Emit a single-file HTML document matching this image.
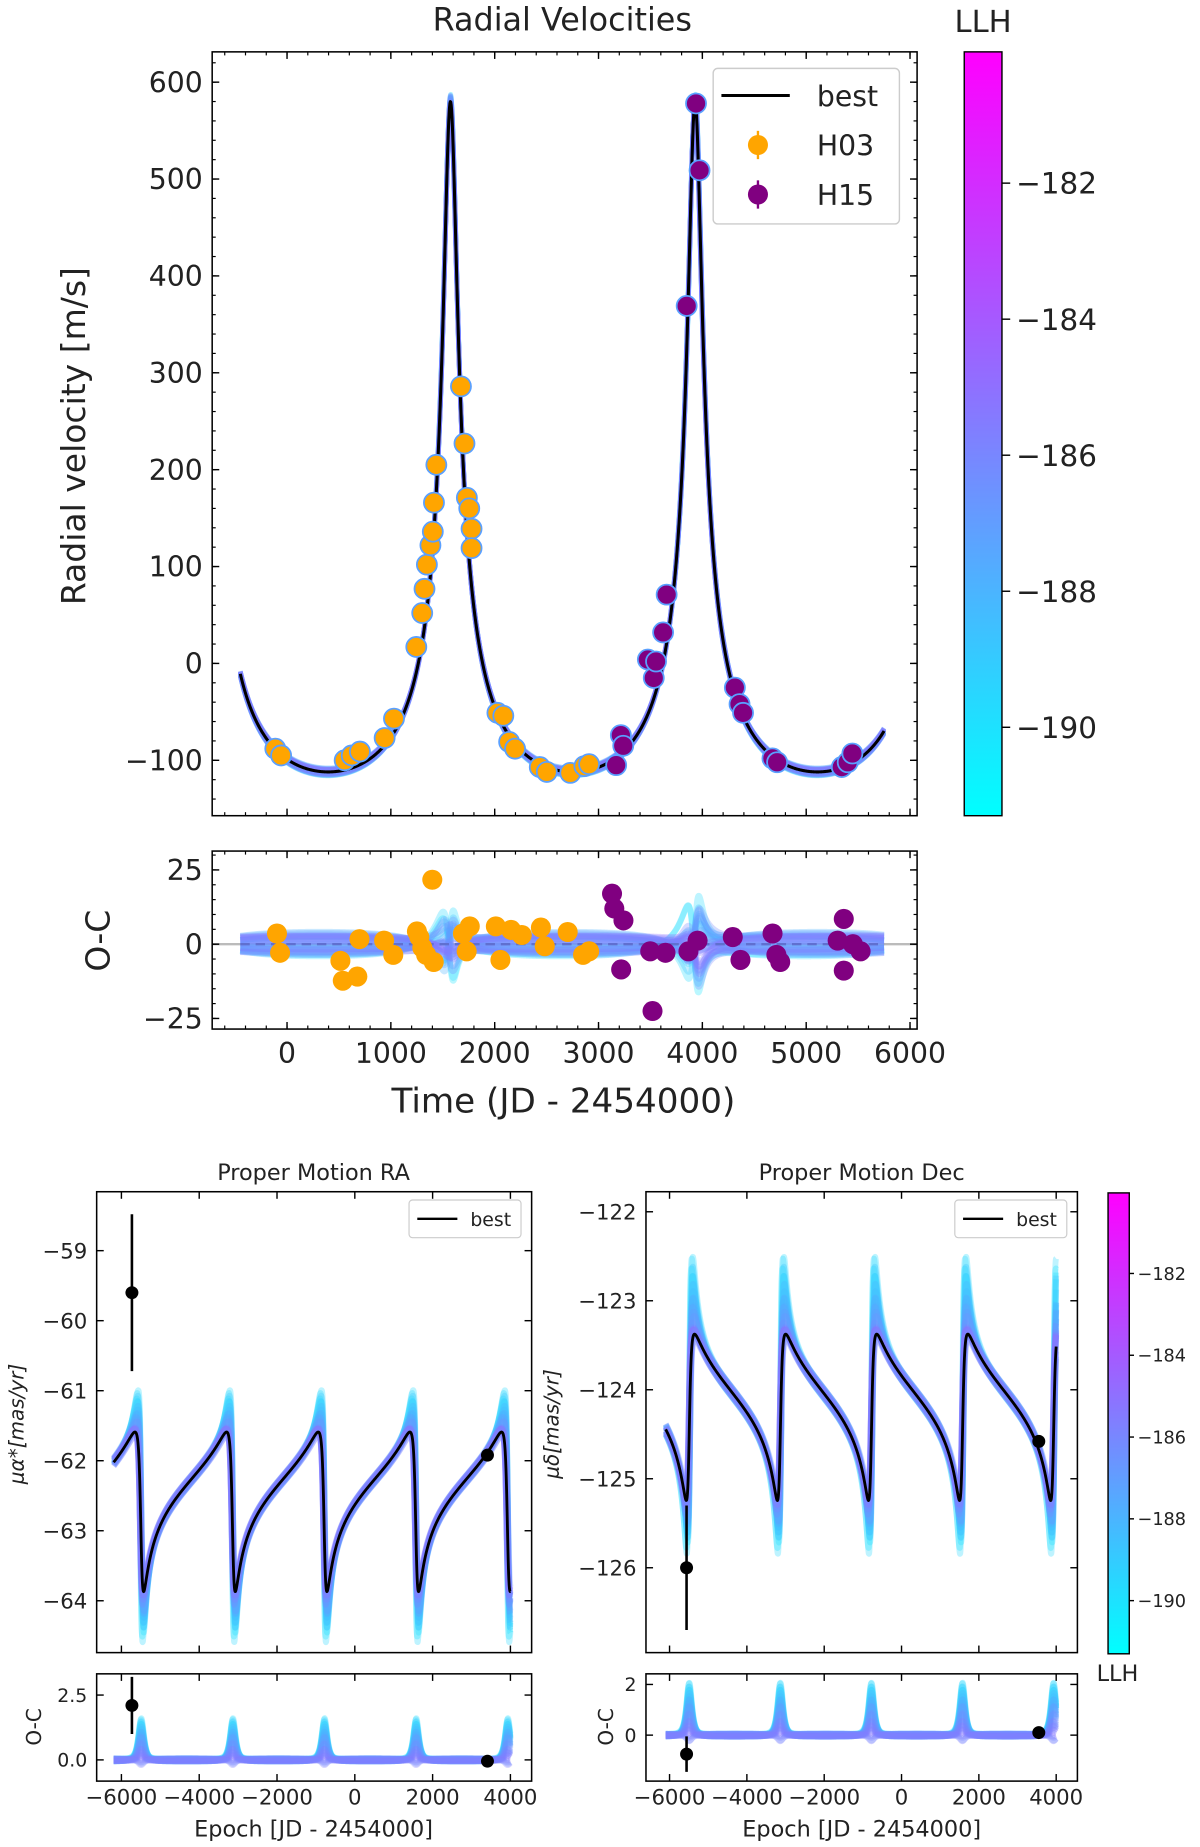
<!DOCTYPE html>
<html><head><meta charset="utf-8"><style>
html,body{margin:0;padding:0;background:#fff;}
svg{display:block;font-family:"DejaVu Sans","Liberation Sans",sans-serif;}
</style></head><body>
<svg id="fig" width="1200" height="1847" viewBox="0 0 1018 1566.9" preserveAspectRatio="none" xmlns="http://www.w3.org/2000/svg">
<defs>
<linearGradient id="cool" x1="0" y1="1" x2="0" y2="0"><stop offset="0" stop-color="#00ffff"/><stop offset="1" stop-color="#ff00ff"/></linearGradient>
</defs>
</svg>
<script>
// ---- RV data (H03, H15) ----
const tH03=[-113,-57,555,623,702,940,1030,1245,1302,1324,1347,1381,1404,1415,1438,1675,1709,1732,1755,1777,1777,2026,2083,2139,2196,2434,2502,2728,2864,2909];
const rvH03=[-88,-95,-100,-95,-91,-77,-57,17,52,77,102,122,136,166,205,286,227,171,160,139,119,-51,-54,-81,-88,-107,-112,-113,-106,-104];
const tH15=[3170,3215,3238,3475,3532,3554,3622,3656,3849,3939,3973,4313,4358,4392,4675,4720,5343,5400,5445];
const rvH15=[-105,-74,-85,4,-15,2,32,71,369,578,509,-25,-42,-51,-98,-102,-107,-102,-93];
// ---- RV residuals ----
const ocTH03=[-97,-67,514,537,677,698,935,1023,1251,1274,1303,1340,1399,1413,1694,1730,1760,2011,2055,2158,2261,2445,2482,2703,2851,2910];
const ocH03=[3.6,-2.9,-5.6,-12.3,-10.9,1.7,1.2,-3.6,4.3,2.4,-1.2,-3.6,21.7,-6,3.6,-2.4,6,6,-5.3,4.8,3.1,5.6,-0.7,4.1,-3.6,-2.4];
const ocTH15=[3130,3152,3240,3218,3520,3498,3645,3866,3954,4293,4367,4676,4713,4750,5303,5362,5362,5450,5524];
const ocH15=[17,12,8,-8.5,-22.5,-2.4,-2.9,-2.4,1.2,2.4,-5.3,3.6,-3.6,-6,1.2,8.5,-8.9,0,-2.4];
// ---- proper motion data ----
const raEpoch=[-5730,3410], raVal=[-59.6,-61.92], raErr=[1.12,0.05], raOC=[2.1,-0.05], raOCErr=[1.1,0.05];
const decEpoch=[-5560,3550], decVal=[-126.0,-124.58], decErr=[0.7,0.05], decOC=[-0.75,0.1], decOCErr=[0.7,0.05];
// ---- tick labels ----
const rvYTicks=[-100,0,100,200,300,400,500,600], rvXTicks=[0,1000,2000,3000,4000,5000,6000], ocYTicks=[-25,0,25];
const raYTicks=[-64,-63,-62,-61,-60,-59], decYTicks=[-126,-125,-124,-123,-122], pmXTicks=[-6000,-4000,-2000,0,2000,4000];
const raOCTicks=[0,2.5], decOCTicks=[0,2], cbTicks=[-182,-184,-186,-188,-190];

const NS='http://www.w3.org/2000/svg', svg=document.getElementById('fig');
function el(tag,attrs,parent,txt){const e=document.createElementNS(NS,tag);for(const k in attrs)e.setAttribute(k,attrs[k]);if(txt!==undefined)e.textContent=txt;(parent||svg).appendChild(e);return e;}
function lin(d0,p0,d1,p1){return v=>p0+(v-d0)*(p1-p0)/(d1-d0);}
function nu(t,tp,P,e){let M=2*Math.PI*(t-tp)/P;M-=2*Math.PI*Math.floor(M/(2*Math.PI));let E=Math.PI;for(let i=0;i<40;i++)E-=(E-e*Math.sin(E)-M)/(1-e*Math.cos(E));return 2*Math.atan2(Math.sqrt(1+e)*Math.sin(E/2),Math.sqrt(1-e)*Math.cos(E/2));}
const TP=1574,PER=2356,D2R=Math.PI/180;
const best={K:346,e:0.7,g:-8.2,P:PER,tp:TP,a:0,dt:0,off:0,h:0};
const samples=[];for(let i=0;i<30;i++){const a=((i*0.618)%1),b=Math.cos(i*2.3),c=Math.sin(i*0.77+1);
 samples.push({K:346*(1+0.008*b),e:0.7+0.006*c*a,g:-8.2+2.4*c,P:PER+1.5*b,tp:TP+2.5*c*a,a:a,dt:22*b,off:0.05*c,h:a*1.1-0.12,dev:a});}
samples.sort((p,q)=>q.dev-p.dev);
function rv(t,p){return p.g+p.K*(Math.cos(nu(t,p.tp,p.P,p.e))+p.e);}
function wgt(v,k){return Math.pow((1+Math.cos(v))/2,k);}
function ra(t,p){const v=nu(t,TP+p.dt,PER,0.72);const b=-Math.sin(v+20*D2R);const s=b>0?1.5:0.9;return -62.73+p.off+1.14*b*(1+s*p.a*p.a*wgt(v,1.2));}
function dec(t,p){const v=nu(t,TP+p.dt,PER,0.72);const b=Math.sin(v-15*D2R);const s=b>0?2.3:0.95;return -124.31+p.off+0.935*b*(1+s*p.a*p.a*wgt(v,1.2));}
function raOCm(t,p){const v=nu(t,TP+p.dt*0.3,PER,0.62);return 1.7*p.h*wgt(v,2.5)+1.2*p.off*Math.cos(v);}
function decOCm(t,p){const v=nu(t,TP+p.dt*0.3,PER,0.62);return 2.2*p.h*wgt(v,2.5)+1.2*p.off*Math.cos(v);}
function cool(c){return `rgb(${Math.round(255*c)},${Math.round(255*(1-c))},255)`;}
function scol(p,i){return cool(Math.max(0.05,0.56-0.42*p.dev*p.dev-0.05*(i%3)));}
let clipN=0;
function box(x0,y0,x1,y1,name){const id='c'+(clipN++);const cp=el('clipPath',{id:id});el('rect',{x:x0,y:y0,width:x1-x0,height:y1-y0},cp);const g=el('g',{'clip-path':`url(#${id})`});return g;}
function frame(x0,y0,x1,y1,name){const r=el('rect',{x:x0,y:y0,width:x1-x0,height:y1-y0,fill:'none',stroke:'#000','stroke-width':1.3});}
function path(g,f,sx,sy,t0,t1,stroke,w,op,name){let d='';const n=1600;for(let i=0;i<=n;i++){const t=t0+(t1-t0)*i/n;d+=(i?'L':'M')+sx(t).toFixed(2)+','+sy(f(t)).toFixed(2);}const p=el('path',{d:d,fill:'none',stroke:stroke,'stroke-width':w,'stroke-opacity':op,'stroke-linejoin':'round'},g);return p;}
function xticks(x0,y0,x1,y1,sx,major,minor,fs,labels,lblY,name){const g=el('g',{});
 for(const v of minor){const x=sx(v);if(x<x0||x>x1)continue;el('line',{x1:x,x2:x,y1:y1,y2:y1-3,stroke:'#000','stroke-width':1},g);el('line',{x1:x,x2:x,y1:y0,y2:y0+3,stroke:'#000','stroke-width':1},g);}
 for(const v of major){const x=sx(v);el('line',{x1:x,x2:x,y1:y1,y2:y1-6,stroke:'#000','stroke-width':1.2},g);el('line',{x1:x,x2:x,y1:y0,y2:y0+6,stroke:'#000','stroke-width':1.2},g);
  if(labels){const t=el('text',{x:x,y:lblY,'font-size':fs,'text-anchor':'middle',fill:'#222'},g,String(v).replace('-','\u2212'));}}}
function yticks(x0,y0,x1,y1,sy,major,minor,fs,fmt,name){const g=el('g',{});
 for(const v of minor){const y=sy(v);if(y<y0||y>y1)continue;el('line',{x1:x0,x2:x0+3,y1:y,y2:y,stroke:'#000','stroke-width':1},g);el('line',{x1:x1,x2:x1-3,y1:y,y2:y,stroke:'#000','stroke-width':1},g);}
 for(const v of major){const y=sy(v);el('line',{x1:x0,x2:x0+6,y1:y,y2:y,stroke:'#000','stroke-width':1.2},g);el('line',{x1:x1,x2:x1-6,y1:y,y2:y,stroke:'#000','stroke-width':1.2},g);
  const t=el('text',{x:x0-8,y:y+fs*0.36,'font-size':fs,'text-anchor':'end',fill:'#222'},g,fmt(v).replace('-','\u2212'));}}
function range(a,b,s){const r=[];for(let v=a;v<=b+1e-9;v+=s)r.push(+v.toFixed(4));return r;}
function label(x,y,fs,txt,name,rot,extra){const a={x:x,y:y,'font-size':fs,'text-anchor':'middle',fill:'#222'};if(rot)a.transform=`rotate(-90 ${x} ${y})`;Object.assign(a,extra||{});const t=el('text',a,svg,txt);return t;}
function colorbar(x0,y0,x1,y1,top,bot,fs,name,small){const sy=lin(top,y0,bot,y1);const r=el('rect',{x:x0,y:y0,width:x1-x0,height:y1-y0,fill:'url(#cool)',stroke:'#000','stroke-width':1.2});
 for(const v of cbTicks){const y=sy(v);el('line',{x1:x1,x2:x1+(small?4:7),y1:y,y2:y,stroke:'#000','stroke-width':1.2});const t=el('text',{x:x1+(small?7:12),y:y+fs*0.36,'font-size':fs,fill:'#222'},svg,String(v).replace('-','\u2212'));}}
function dot(g,x,y,r,fill,stroke,name){const c=el('circle',{cx:x,cy:y,r:r,fill:fill,stroke:stroke||'none','stroke-width':1.5},g);}

// ===== Top RV panel =====
label(477,26,27,'Radial Velocities','rv-title');
{const X0=180,Y0=44,X1=778,Y1=692;const sx=lin(0,243.5,6000,772),sy=lin(600,69.7,-100,645);
 const g=box(X0,Y0,X1,Y1,'rv');
 samples.forEach((p,i)=>path(g,t=>rv(t,p),sx,sy,-450,5750,scol(p,i),4,0.35,'rv-posterior-curve'));
 path(g,t=>rv(t,best),sx,sy,-450,5750,'#000',2.6,1,'rv-best-curve');
 tH03.forEach((t,i)=>dot(g,sx(t),sy(rvH03[i]),8.5,'#ffa500','#5aa0ff','h03-point'));
 tH15.forEach((t,i)=>dot(g,sx(t),sy(rvH15[i]),8.5,'#800080','#5aa0ff','h15-point'));
 frame(X0,Y0,X1,Y1,'rv');
 xticks(X0,Y0,X1,Y1,sx,rvXTicks,range(-600,6000,200),24,false,0,'rv-x-ticks');
 yticks(X0,Y0,X1,Y1,sy,rvYTicks,range(-140,620,20),24,v=>String(v),'rv-y-ticks');
 label(72,370,28,'Radial velocity [m/s]','rv-y-axis-title',true);
 const lg=el('g',{});
 el('rect',{x:605,y:58,width:158,height:132,rx:4,fill:'#fff','fill-opacity':0.85,stroke:'#ccc','stroke-width':1.2},lg);
 el('line',{x1:612,x2:670,y1:81,y2:81,stroke:'#000','stroke-width':2.6},lg);
 el('text',{x:693,y:90,'font-size':24,fill:'#222'},lg,'best');
 el('line',{x1:643,x2:643,y1:111,y2:135,stroke:'#ffa500','stroke-width':2},lg);el('circle',{cx:643,cy:123,r:8.5,fill:'#ffa500'},lg);
 el('text',{x:693,y:132,'font-size':24,fill:'#222'},lg,'H03');
 el('line',{x1:643,x2:643,y1:153,y2:177,stroke:'#800080','stroke-width':2},lg);el('circle',{cx:643,cy:165,r:8.5,fill:'#800080'},lg);
 el('text',{x:693,y:174,'font-size':24,fill:'#222'},lg,'H15');
}
// ===== RV O-C =====
{const X0=180,Y0=722,X1=778,Y1=873;const sx=lin(0,243.5,6000,772),sy=lin(25,738,-25,864);
 const g=box(X0,Y0,X1,Y1,'rv-oc');
 el('line',{x1:X0,x2:X1,y1:sy(0),y2:sy(0),stroke:'#bbb','stroke-width':2},g);
 samples.forEach((p,i)=>path(g,t=>rv(t,p)-rv(t,best),sx,sy,-450,5750,scol(p,i),5,0.3,'rv-oc-posterior-curve'));
 el('line',{x1:sx(-450),x2:sx(5750),y1:sy(0),y2:sy(0),stroke:'#6070d0','stroke-width':2,'stroke-dasharray':'8,5'},g);
 ocTH03.forEach((t,i)=>dot(g,sx(t),sy(ocH03[i]),8.5,'#ffa500',null,'h03-residual'));
 ocTH15.forEach((t,i)=>dot(g,sx(t),sy(ocH15[i]),8.5,'#800080',null,'h15-residual'));
 frame(X0,Y0,X1,Y1,'rv-oc');
 xticks(X0,Y0,X1,Y1,sx,rvXTicks,range(-600,6000,200),24,true,902,'rv-oc-x-ticks');
 yticks(X0,Y0,X1,Y1,sy,ocYTicks,range(-25,30,5),24,v=>String(v),'rv-oc-y-ticks');
 label(93,798,28,'O-C','rv-oc-y-axis-title',true);
 label(478,944,29,'Time (JD - 2454000)','rv-x-axis-title');
}
colorbar(818,44,850,692,-180.07,-191.3,25,'rv-colorbar',false);
label(834,27,26,'LLH','rv-colorbar-title');

// ===== Proper motion panels =====
function pmPanel(o){
 const g=box(o.X0,o.Y0,o.X1,o.Y1,o.name);
 samples.forEach((p,i)=>path(g,t=>o.f(t,p),o.sx,o.sy,o.t0,4000,scol(p,i),5,0.3,o.name+'-posterior-curve'));
 path(g,t=>o.f(t,best),o.sx,o.sy,o.t0,4000,'#000',2.4,1,o.name+'-best-curve');
 o.ep.forEach((t,i)=>{const x=o.sx(t);const l=el('line',{x1:x,x2:x,y1:o.sy(o.val[i]-o.err[i]),y2:o.sy(o.val[i]+o.err[i]),stroke:'#000','stroke-width':2.2},g);dot(g,x,o.sy(o.val[i]),5.5,'#000',null,'pm-data-point');});
 frame(o.X0,o.Y0,o.X1,o.Y1,o.name);
 xticks(o.X0,o.Y0,o.X1,o.Y1,o.sx,pmXTicks,[],18,false,0,o.name+'-x-ticks');
 yticks(o.X0,o.Y0,o.X1,o.Y1,o.sy,o.yt,[],18,v=>String(v),o.name+'-y-ticks');
 const lg=el('g',{});
 el('rect',{x:o.X1-104,y:o.Y0+7,width:95,height:32,rx:3,fill:'#fff',stroke:'#ccc','stroke-width':1},lg);
 el('line',{x1:o.X1-97,x2:o.X1-63,y1:o.Y0+23,y2:o.Y0+23,stroke:'#000','stroke-width':2},lg);
 el('text',{x:o.X1-52,y:o.Y0+29,'font-size':16,fill:'#222'},lg,'best');
 const og=box(o.X0,o.OY0,o.X1,o.OY1,o.name+'-oc');
 samples.forEach((p,i)=>path(og,t=>o.oc(t,p),o.sx,o.osy,o.t0,4000,scol(p,i),5,0.3,o.name+'-oc-posterior-curve'));
 o.ep.forEach((t,i)=>{const x=o.sx(t);const l=el('line',{x1:x,x2:x,y1:o.osy(o.ocv[i]-o.ocErr[i]),y2:o.osy(o.ocv[i]+o.ocErr[i]),stroke:'#000','stroke-width':2.2},og);dot(og,x,o.osy(o.ocv[i]),5.5,'#000',null,'pm-residual-point');});
 frame(o.X0,o.OY0,o.X1,o.OY1,o.name+'-oc');
 xticks(o.X0,o.OY0,o.X1,o.OY1,o.sx,pmXTicks,[],18,true,1531,o.name+'-oc-x-ticks');
 yticks(o.X0,o.OY0,o.X1,o.OY1,o.osy,o.oyt,[],16,o.ofmt,o.name+'-oc-y-ticks');
}
label(266,1001,19,'Proper Motion RA','pm-ra-title');
pmPanel({name:'pm-ra',X0:82,Y0:1011,X1:451,Y1:1402,OY0:1420,OY1:1511,sx:lin(-6000,103,4000,433),sy:lin(-59,1061,-64,1358),osy:lin(2.5,1438,0,1493),
 f:ra,oc:raOCm,t0:-6200,ep:raEpoch,val:raVal,err:raErr,ocv:raOC,ocErr:raOCErr,yt:raYTicks,oyt:raOCTicks,ofmt:v=>v.toFixed(1)});
label(20,1208,17,'μα*[mas/yr]','pm-ra-y-axis-title',true,{'font-style':'italic'});
label(35,1465,17,'O-C','pm-ra-oc-y-axis-title',true);
label(266,1558,19,'Epoch [JD - 2454000]','pm-ra-x-axis-title');

label(731,1001,19,'Proper Motion Dec','pm-dec-title');
pmPanel({name:'pm-dec',X0:548,Y0:1011,X1:914,Y1:1402,OY0:1420,OY1:1511,sx:lin(-6000,568,4000,896),sy:lin(-122,1028,-126,1330),osy:lin(2,1429,0,1472),
 f:dec,oc:decOCm,t0:-6100,ep:decEpoch,val:decVal,err:decErr,ocv:decOC,ocErr:decOCErr,yt:decYTicks,oyt:decOCTicks,ofmt:v=>String(v)});
label(474,1208,17,'μδ[mas/yr]','pm-dec-y-axis-title',true,{'font-style':'italic'});
label(520,1465,17,'O-C','pm-dec-oc-y-axis-title',true);
label(731,1558,19,'Epoch [JD - 2454000]','pm-dec-x-axis-title');

colorbar(940,1012,958,1403,-180.03,-191.3,15,'pm-colorbar',true);
label(948,1426,19,'LLH','pm-colorbar-title');
</script>
</body></html>
